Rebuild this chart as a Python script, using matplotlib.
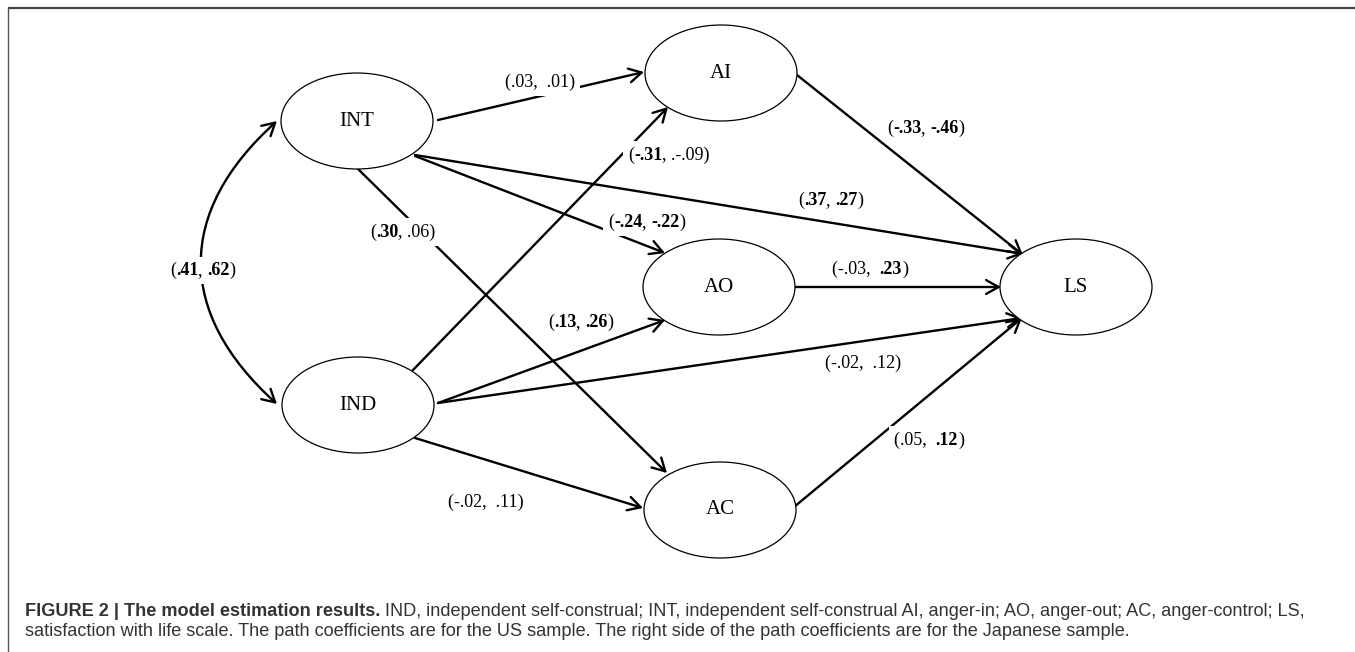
import matplotlib.pyplot as plt
from matplotlib.patches import Ellipse, FancyArrowPatch
from matplotlib.path import Path

# ================= 数据 =================
node_names = ['INT', 'IND', 'AI', 'AO', 'AC', 'LS']

# 路径: (起点, 终点, 系数标签)；*...* 表示粗体
path_from = ['INT', 'IND', 'INT', 'INT', 'INT', 'IND', 'IND', 'IND', 'AI', 'AO', 'AC']
path_to = ['AI', 'AI', 'AO', 'AC', 'LS', 'AO', 'LS', 'AC', 'LS', 'LS', 'LS']
path_labels = ['(.03,  .01)', '(*-.31*, .-.09)', '(*-.24*, *-.22*)', '(*.30*, .06)',
               '(*.37*, *.27*)', '(*.13*, *.26*)', '(-.02,  .12)', '(-.02,  .11)',
               '(*-.33*, *-.46*)', '(-.03,  *.23*)', '(.05,  *.12*)']
cov_label = '(*.41*, *.62*)'

caption_bold = 'FIGURE 2 | The model estimation results.'
caption_line1 = (' IND, independent self-construal; INT, independent self-construal AI, '
                 'anger-in; AO, anger-out; AC, anger-control; LS,')
caption_line2 = ('satisfaction with life scale. The path coefficients are for the US sample. '
                 'The right side of the path coefficients are for the Japanese sample.')

# ================= 布局 (像素坐标) =================
node_xy = {'INT': (357, 121), 'IND': (358, 405), 'AI': (721, 73),
           'AO': (719, 287), 'AC': (720, 510), 'LS': (1076, 287)}
NODE_W, NODE_H = 152, 96

# 箭头起止点
arrow_ends = {
    ('INT', 'AI'): ((438, 120), (644, 72)),
    ('IND', 'AI'): ((413, 370), (668, 107)),
    ('INT', 'AO'): ((415, 156), (665, 253)),
    ('INT', 'AC'): ((358, 169), (667, 473)),
    ('INT', 'LS'): ((415, 155), (1023, 254)),
    ('IND', 'AO'): ((438, 403), (665, 320)),
    ('IND', 'LS'): ((438, 403), (1022, 318)),
    ('IND', 'AC'): ((415, 438), (643, 508)),
    ('AI', 'LS'): ((797, 75), (1023, 255)),
    ('AO', 'LS'): ((795, 287), (1001, 287)),
    ('AC', 'LS'): ((794, 507), (1022, 318)),
}
# 标签左端 x 与中心 y
label_pos = {
    ('INT', 'AI'): (505, 82), ('IND', 'AI'): (628, 155), ('INT', 'AO'): (608, 222),
    ('INT', 'AC'): (370, 232), ('INT', 'LS'): (798, 200), ('IND', 'AO'): (548, 322),
    ('IND', 'LS'): (825, 363), ('IND', 'AC'): (448, 502), ('AI', 'LS'): (887, 128),
    ('AO', 'LS'): (832, 269), ('AC', 'LS'): (894, 440),
}
cov_pos = (170, 270)

SERIF = 'Liberation Serif'
SANS = 'Liberation Sans'
LW = 1.7
HEAD_OPTS = 'head_length=0.9,head_width=0.5'

fig = plt.figure(figsize=(13.55, 6.52), dpi=100)
ax = fig.add_axes([0, 0, 1, 1])
ax.set_xlim(0, 1355)
ax.set_ylim(652, 0)
ax.axis('off')

# 外框 (上、左)
ax.plot([7.5, 1355], [8, 8], color='#444444', lw=1.6, solid_capstyle='butt')
ax.plot([7.5, 7.5], [8, 652], color='#555555', lw=1.0, solid_capstyle='butt')


def mixed_text(x, y, spec, size, family, color='black', bbox=None, zorder=5):
    """按 *粗体* 标记拼接文字"""
    parts = spec.split('*')
    prev = None
    for i, p in enumerate(parts):
        if not p:
            continue
        weight = 'bold' if i % 2 == 1 else 'normal'
        if prev is None:
            prev = ax.text(x, y, p, fontsize=size, family=family, weight=weight,
                           color=color, ha='left', va='center', bbox=bbox, zorder=zorder)
        else:
            prev = ax.annotate(p, xy=(1, 0), xycoords=prev, fontsize=size, family=family,
                               weight=weight, color=color, ha='left', va='bottom',
                               bbox=bbox, zorder=zorder)
    return prev


def path_label(x, y, spec):
    # 先画白底 (遮住线条)，再画文字
    mixed_text(x, y, spec, 13, SERIF, color='none',
               bbox=dict(facecolor='white', edgecolor='none', pad=3.5), zorder=4)
    mixed_text(x, y, spec, 13, SERIF, zorder=5)


# 节点
for name in node_names:
    cx, cy = node_xy[name]
    ax.add_patch(Ellipse((cx, cy), NODE_W, NODE_H, facecolor='white',
                         edgecolor='black', lw=0.9, zorder=3))
    ax.text(cx, cy, name, fontsize=15, family=SERIF, ha='center', va='center', zorder=4)

# 路径箭头
for a, b in zip(path_from, path_to):
    p0, p1 = arrow_ends[(a, b)]
    ax.add_patch(FancyArrowPatch(p0, p1, arrowstyle='->,' + HEAD_OPTS, mutation_scale=10,
                                 lw=LW, color='black', shrinkA=0, shrinkB=0, zorder=2))

# INT <-> IND 相关
verts = [(277, 121), (176, 212), (176, 313), (277, 404)]
curve = Path(verts, [Path.MOVETO, Path.CURVE4, Path.CURVE4, Path.CURVE4])
ax.add_patch(FancyArrowPatch(path=curve, arrowstyle='<->,' + HEAD_OPTS, mutation_scale=10,
                             lw=LW, color='black', shrinkA=0, shrinkB=0, zorder=2))

# 系数标签
for a, b, lab in zip(path_from, path_to, path_labels):
    lx, ly = label_pos[(a, b)]
    path_label(lx, ly, lab)
path_label(cov_pos[0], cov_pos[1], cov_label)

# 图注
mixed_text(25, 612, '*' + caption_bold + '*' + caption_line1, 13.1, SANS, color='#333333')
mixed_text(25, 631, caption_line2, 13.1, SANS, color='#333333')

fig.savefig('out.png', dpi=100)
